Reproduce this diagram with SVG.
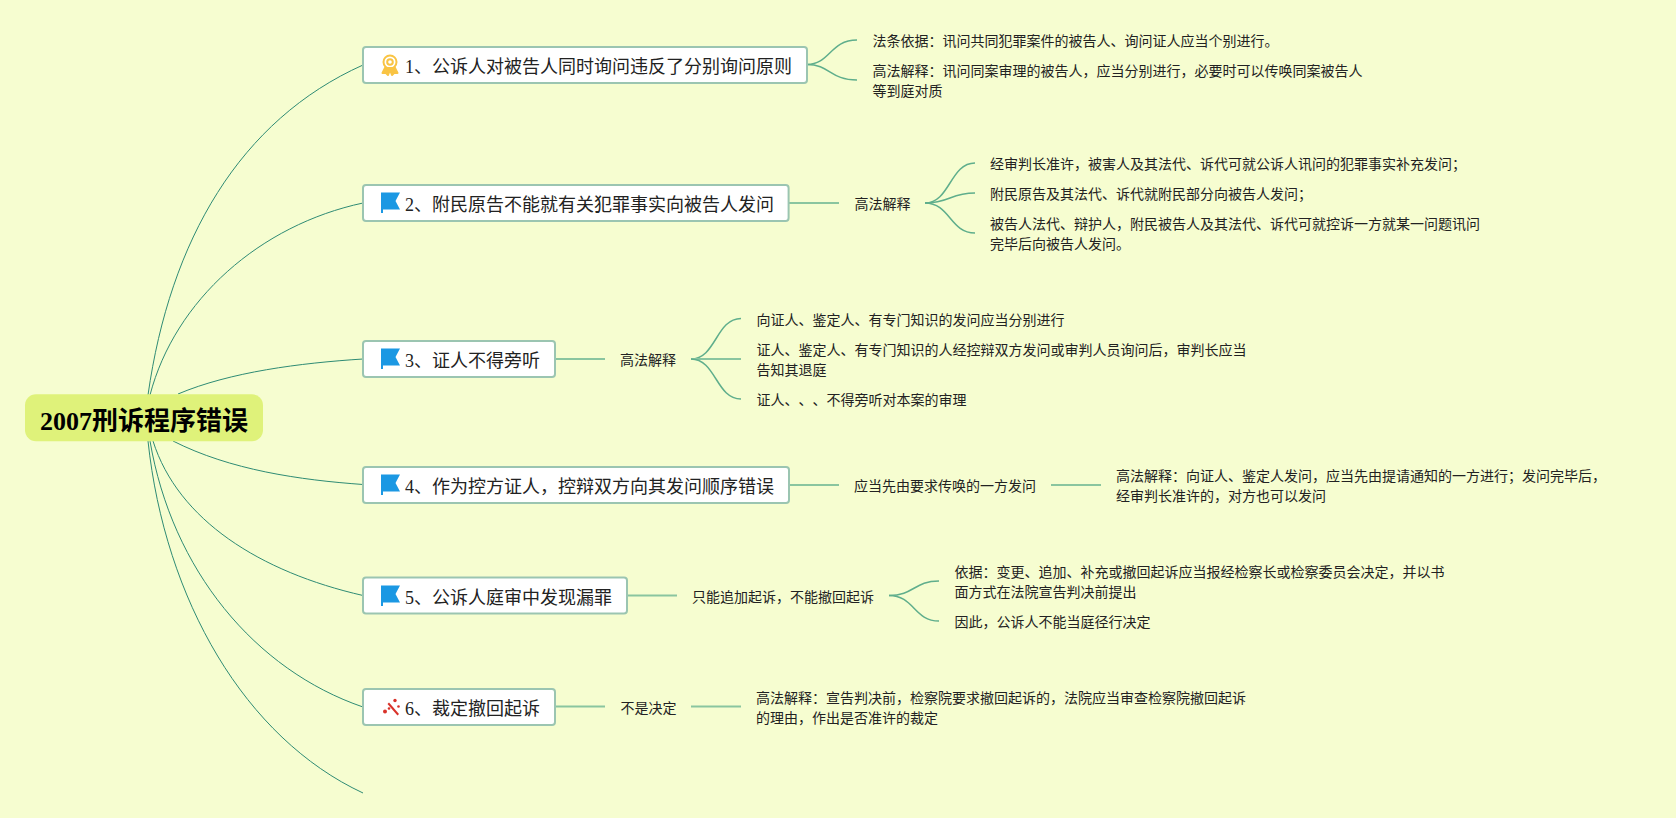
<svg xmlns="http://www.w3.org/2000/svg" width="1676" height="818" viewBox="0 0 1676 818">
<style>
text{font-family:"Liberation Serif","Noto Sans CJK SC",serif;fill:#222}
.t{font-size:18px}
.s{font-size:14px}
.r{font-size:26px;font-weight:bold;fill:#000}
.b{fill:#fff;stroke:#9bc5b1;stroke-width:2}
.m{fill:none;stroke:#2e8b74;stroke-width:1}
.l{fill:none;stroke:#8ac59f;stroke-width:2}
.c{fill:none;stroke:#5fae8c;stroke-width:1.5}
.f{fill:#1b98e3}
</style>
<defs>
<path id="flag" d="M0,0H19L14.5,8.5L19,17H2V20.5H0Z"/>
</defs>
<rect width="1676" height="818" fill="#f6fdd0"/>
<g id="connectors">
<path class="m" d="M148,395C170,240 240,120 363,65"/>
<path class="m" d="M150,395C175,300 260,225 363,203"/>
<path class="m" d="M178,394C230,372 300,363 363,359"/>
<path class="m" d="M173,441C230,470 300,480 363,484.5"/>
<path class="m" d="M153,441C178,520 260,572 363,595.5"/>
<path class="m" d="M150,441C172,570 255,670 363,707"/>
<path class="m" d="M148,441C165,600 245,738 363,793"/>
<path class="c" d="M807,64.5C830,64.5 830,40 857,40"/>
<path class="c" d="M807,64.5C830,64.5 830,80 857,80"/>
<path class="l" d="M789,203H839"/>
<path class="c" d="M925,203C950,203 950,163 975,163"/>
<path class="c" d="M925,203C950,203 950,193 975,193"/>
<path class="c" d="M925,203C950,203 950,233 975,233"/>
<path class="l" d="M555,359H605"/>
<path class="c" d="M691,359C716,359 716,318.500 741,318.500"/>
<path class="l" d="M691,359H741"/>
<path class="c" d="M691,359C716,359 716,399 741,399"/>
<path class="l" d="M789,485H839"/>
<path class="l" d="M1051,485H1101"/>
<path class="l" d="M627,595.500H677"/>
<path class="c" d="M889,595.500C914,595.500 914,581 939,581"/>
<path class="c" d="M889,595.500C914,595.500 914,621 939,621"/>
<path class="l" d="M555,706.500H605"/>
<path class="l" d="M691,706.500H741"/>
</g>
<g id="root">
<rect x="25" y="394.300" width="238" height="47" rx="11" fill="#dff27a"/>
<text class="r" x="40" y="430">2007刑诉程序错误</text>
</g>
<g id="n1">
<rect class="b" x="363" y="47" width="444" height="36" rx="3"/>
<g fill="none" stroke="#f9c444" stroke-width="2">
<circle cx="390" cy="62" r="6.500"/><circle cx="390" cy="62" r="2.800"/>
<path d="M385.500,67L382.500,73L386,73L388,75L390,70L392,75L394,73L397.500,73L394.500,67" fill="#f9c444" stroke-linejoin="round"/>
</g>
<text class="t" x="405" y="73">1、公诉人对被告人同时询问违反了分别询问原则</text>
</g>
<g id="n2">
<rect class="b" x="363" y="185" width="425.600" height="36" rx="3"/>
<use href="#flag" class="f" x="381" y="192.500"/>
<text class="t" x="405" y="211">2、附民原告不能就有关犯罪事实向被告人发问</text>
</g>
<g id="n3">
<rect class="b" x="363" y="341" width="192" height="36" rx="3"/>
<use href="#flag" class="f" x="381" y="348.500"/>
<text class="t" x="405" y="367">3、证人不得旁听</text>
</g>
<g id="n4">
<rect class="b" x="363" y="467" width="426" height="36" rx="3"/>
<use href="#flag" class="f" x="381" y="474.500"/>
<text class="t" x="405" y="493">4、作为控方证人，控辩双方向其发问顺序错误</text>
</g>
<g id="n5">
<rect class="b" x="363" y="577.500" width="264" height="36" rx="3"/>
<use href="#flag" class="f" x="381" y="585.500"/>
<text class="t" x="405" y="603.500">5、公诉人庭审中发现漏罪</text>
</g>
<g id="n6">
<rect class="b" x="363" y="689" width="192" height="36" rx="3"/>
<g fill="#d9322a">
<path d="M387.500,704L389,702.500L399,714L397.500,715.500Z"/>
<circle cx="385" cy="711.500" r="2"/><circle cx="389" cy="708.500" r="1.300"/><circle cx="395" cy="700.500" r="1.700"/><circle cx="398.500" cy="706.500" r="1.300"/>
</g>
<text class="t" x="405" y="715">6、裁定撤回起诉</text>
</g>
<g id="n1a"><text class="s" x="872.500" y="45.500">法条依据：讯问共同犯罪案件的被告人、询问证人应当个别进行。</text></g>
<g id="n1b"><text class="s" x="872.500" y="75.500">高法解释：讯问同案审理的被告人，应当分别进行，必要时可以传唤同案被告人</text><text class="s" x="872.500" y="95.500">等到庭对质</text></g>
<g id="n2a"><text class="s" x="854.500" y="209">高法解释</text></g>
<g id="n2b"><text class="s" x="990" y="169">经审判长准许，被害人及其法代、诉代可就公诉人讯问的犯罪事实补充发问；</text></g>
<g id="n2c"><text class="s" x="990" y="199">附民原告及其法代、诉代就附民部分向被告人发问；</text></g>
<g id="n2d"><text class="s" x="990" y="229">被告人法代、辩护人，附民被告人及其法代、诉代可就控诉一方就某一问题讯问</text><text class="s" x="990" y="249">完毕后向被告人发问。</text></g>
<g id="n3a"><text class="s" x="620" y="365">高法解释</text></g>
<g id="n3b"><text class="s" x="756.500" y="325">向证人、鉴定人、有专门知识的发问应当分别进行</text></g>
<g id="n3c"><text class="s" x="756.500" y="355">证人、鉴定人、有专门知识的人经控辩双方发问或审判人员询问后，审判长应当</text><text class="s" x="756.500" y="375">告知其退庭</text></g>
<g id="n3d"><text class="s" x="756.5 770.5 784.5 798.5 812.5 826.5 840.5 854.5 868.5 882.5 896.5 910.5 924.5 938.5 952.5" y="404.500">证人、、、不得旁听对本案的审理</text></g>
<g id="n4a"><text class="s" x="854" y="490.500">应当先由要求传唤的一方发问</text></g>
<g id="n4b"><text class="s" x="1116" y="481">高法解释：向证人、鉴定人发问，应当先由提请通知的一方进行；发问完毕后，</text><text class="s" x="1116" y="501">经审判长准许的，对方也可以发问</text></g>
<g id="n5a"><text class="s" x="692" y="602">只能追加起诉，不能撤回起诉</text></g>
<g id="n5b"><text class="s" x="954.500" y="577">依据：变更、追加、补充或撤回起诉应当报经检察长或检察委员会决定，并以书</text><text class="s" x="954.500" y="597">面方式在法院宣告判决前提出</text></g>
<g id="n5c"><text class="s" x="954.500" y="627">因此，公诉人不能当庭径行决定</text></g>
<g id="n6a"><text class="s" x="620.500" y="712.500">不是决定</text></g>
<g id="n6b"><text class="s" x="756" y="702.500">高法解释：宣告判决前，检察院要求撤回起诉的，法院应当审查检察院撤回起诉</text><text class="s" x="756" y="722.500">的理由，作出是否准许的裁定</text></g>
</svg>
